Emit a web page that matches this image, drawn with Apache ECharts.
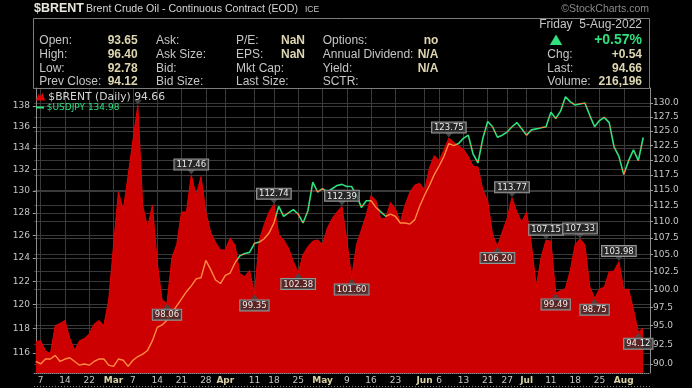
<!DOCTYPE html>
<html><head><meta charset="utf-8">
<script src="https://cdn.jsdelivr.net/npm/echarts@6/dist/echarts.min.js"></script>
<style>html,body{margin:0;padding:0;background:#000;} #c{width:692px;height:388px;}</style>
</head><body><div id="c"></div><script>
// ---- data ----
const dates = ['2/4','2/7','2/8','2/9','2/10','2/11','2/14','2/15','2/16','2/17','2/18','2/22','2/23','2/24','2/25','2/28',
'3/1','3/2','3/3','3/4','3/7','3/8','3/9','3/10','3/11','3/14','3/15','3/16','3/17','3/18','3/21','3/22','3/23','3/24','3/25','3/28','3/29','3/30','3/31',
'4/1','4/4','4/5','4/6','4/7','4/8','4/11','4/12','4/13','4/14','4/18','4/19','4/20','4/21','4/22','4/25','4/26','4/27','4/28','4/29',
'5/2','5/3','5/4','5/5','5/6','5/9','5/10','5/11','5/12','5/13','5/16','5/17','5/18','5/19','5/20','5/23','5/24','5/25','5/26','5/27','5/31',
'6/1','6/2','6/3','6/6','6/7','6/8','6/9','6/10','6/13','6/14','6/15','6/16','6/17','6/21','6/22','6/23','6/24','6/27','6/28','6/29','6/30',
'7/1','7/5','7/6','7/7','7/8','7/11','7/12','7/13','7/14','7/15','7/18','7/19','7/20','7/21','7/22','7/25','7/26','7/27','7/28','7/29',
'8/1','8/2','8/3','8/4','8/5'];
const brent = [92.9,93.0,91.7,91.3,95.0,95.3,95.7,93.3,91.8,93.0,
93.3,93.9,95.2,95.7,95.0,98.5,106.4,114.7,111.8,117.4,
123.4,129.6,112.6,109.0,112.6,103.8,98.5,98.06,104.5,106.5,
111.5,111.5,117.46,114.1,117.2,111.5,108.3,106.8,105.7,105.7,
107.5,106.4,102.2,101.8,102.7,99.35,107.2,109.5,111.5,112.74,
108.0,107.2,106.0,104.0,102.38,105.0,106.2,107.0,107.2,106.5,
109.0,110.5,111.5,112.39,107.2,101.60,106.5,108.7,111.0,114.1,
113.3,110.4,110.5,113.0,112.0,109.9,112.6,114.7,115.8,116.1,
115.0,118.6,120.7,119.9,121.7,123.75,123.0,122.4,121.8,120.6,
118.9,118.8,115.0,113.3,108.0,106.20,108.4,110.5,113.77,111.5,
109.9,111.5,106.5,100.4,104.6,107.15,107.0,99.49,99.8,100.1,
102.7,106.5,107.33,106.5,100.4,98.75,100.0,100.3,102.5,102.6,
103.98,100.0,100.0,97.2,94.12,94.66];
const usdjpy = [115.3,115.1,115.5,115.5,115.8,115.3,115.5,115.6,115.3,115.0,
115.1,115.0,115.3,115.5,115.5,115.0,114.9,115.5,115.4,114.9,
115.4,115.7,115.9,116.2,117.0,118.1,118.3,118.7,119.3,119.9,
120.5,121.1,121.6,122.2,122.3,123.8,123.0,122.1,121.8,122.5,
122.7,123.6,124.2,124.4,124.5,125.3,125.4,125.7,126.2,127.1,
128.6,127.7,128.0,128.3,127.9,127.1,128.2,130.8,129.9,130.2,
129.9,130.2,130.5,130.6,130.4,130.4,129.6,128.5,129.1,129.1,
128.5,128.1,127.7,127.9,127.7,127.1,127.1,127.0,127.4,128.6,
129.6,130.5,131.5,132.3,133.2,134.4,134.2,134.4,134.9,135.2,
133.4,132.6,134.9,136.5,136.0,135.0,135.2,135.5,136.0,136.4,
135.8,135.2,135.7,135.8,135.9,136.0,137.4,136.8,137.5,138.9,
138.4,138.1,138.2,138.3,137.1,136.0,136.6,136.9,136.4,134.1,
133.2,131.5,132.8,133.8,132.8,134.98];
const xTickDates  = ['2/7','2/14','2/22','3/1','3/7','3/14','3/21','3/28','4/1','4/11','4/18','4/25','5/2','5/9','5/16','5/23','6/1','6/6','6/13','6/21','6/27','7/1','7/11','7/18','7/25','8/1'];
const xTickLabels = ['7','14','22','Mar','7','14','21','28','Apr','11','18','25','May','9','16','23','Jun','6','13','21','27','Jul','11','18','25','Aug'];
const monthLabels = ['Mar','Apr','May','Jun','Jul','Aug'];
const jpyTicks   = [116,118,120,122,124,126,128,130,132,134,136,138];
const brentTicks = [90,92.5,95,97.5,100,102.5,105,107.5,110,112.5,115,117.5,120,122.5,125,127.5,130];
const peakDates   = ['3/8','3/23','4/18','5/6','6/8','6/28','7/8','7/19','7/29'];
const troughDates = ['3/16','4/11','4/25','5/10','6/23','7/12','7/22','8/4'];
const hiddenLabelDates = ['3/8'];
const quoteLabels1 = ['Open:','High:','Low:','Prev Close:'];
const quoteValues1 = ['93.65','96.40','92.78','94.12'];
const quoteLabels2 = ['Ask:','Ask Size:','Bid:','Bid Size:'];
const quoteLabels3 = ['P/E:','EPS:','Mkt Cap:','Last Size:'];
const quoteValues3 = ['NaN','NaN','',''];
const quoteLabels4 = ['Options:','Annual Dividend:','Yield:','SCTR:'];
const quoteValues4 = ['no','N/A','N/A',''];
const sideLabels = ['Chg:','Last:','Volume:'];
const sideValues = ['+0.54','94.66','216,196'];
const quoteDate = 'Friday  5-Aug-2022';
const pctChange = '+0.57%';

// ---- styles ----
const RED = '#cc0000', RED_EDGE = '#e60000', GREEN = '#2fe07c', ORANGE = '#ff8a40';
const GRID = '#3a3a3a', LBL = '#c6c6c6', VAL = '#ddd6b0';
const SANS = '"Liberation Sans", Arial, sans-serif', DJ = '"DejaVu Sans", sans-serif';

const idx = d => dates.indexOf(d);
const brentPts = brent.map((v, i) => [i, v]);
const jpyPts = usdjpy.map((v, i) => [i, v]);
const tickIdx = xTickDates.map(idx);
const labelOf = {}; tickIdx.forEach((t, k) => labelOf[t] = xTickLabels[k]);

const boxLabel = {
  color: '#ececec', fontFamily: DJ, fontSize: 8.5, lineHeight: 9,
  backgroundColor: 'rgba(50,50,50,0.72)', borderColor: '#959595', borderWidth: 1, padding: [1, 2, 0, 2]
};
const mp = [];
peakDates.forEach(d => { const i = idx(d); mp.push({
  coord: [i, brent[i]], symbol: 'triangle', symbolSize: [8, 5], symbolRotate: 180, symbolOffset: [0, -3],
  itemStyle: { color: 'rgba(70,70,70,0.92)' },
  label: Object.assign({ show: hiddenLabelDates.indexOf(d) < 0, position: 'top', distance: 0, formatter: brent[i].toFixed(2) }, boxLabel)
}); });
troughDates.forEach(d => { const i = idx(d); mp.push({
  coord: [i, brent[i]], symbol: 'triangle', symbolSize: [8, 5], symbolOffset: [0, 3],
  itemStyle: { color: 'rgba(70,70,70,0.92)' },
  label: Object.assign({ show: true, position: 'bottom', distance: 1, formatter: brent[i].toFixed(2) }, boxLabel)
}); });

function T(x, y, text, font, fill, align) {
  return { type: 'text', x: x, y: y, z: 20, silent: true,
    style: { text: text, font: font, fill: fill, align: align || 'left', textAlign: align || 'left', verticalAlign: 'middle', textVerticalAlign: 'middle' } };
}
const g = [];
g.push({ type: 'rect', z: 19, silent: true, shape: { x: 33.5, y: 18.5, width: 616, height: 70 }, style: { fill: 'none', stroke: '#7c7c7c', lineWidth: 1 } });
g.push(T(34, 9, '$BRENT', 'bold 12.5px ' + SANS, '#e8e6dc'));
g.push(T(86, 9.5, 'Brent Crude Oil - Continuous Contract (EOD)', '10.6px ' + SANS, '#d6d6d6'));
g.push(T(305, 10, 'ICE', '8.5px ' + SANS, '#c8c8c8'));
g.push(T(649, 9.5, '\u00A9StockCharts.com', '10.5px ' + SANS, '#8a8a8a', 'right'));
const rowsY = [40.5, 54.3, 68.2, 82];
rowsY.forEach((y, r) => {
  g.push(T(39.3, y, quoteLabels1[r], '12px ' + SANS, LBL));
  g.push(T(137.7, y, quoteValues1[r], 'bold 12px ' + SANS, VAL, 'right'));
  g.push(T(156, y, quoteLabels2[r], '12px ' + SANS, LBL));
  g.push(T(236, y, quoteLabels3[r], '12px ' + SANS, LBL));
  if (quoteValues3[r]) g.push(T(305, y, quoteValues3[r], 'bold 12px ' + SANS, VAL, 'right'));
  g.push(T(322.7, y, quoteLabels4[r], '12px ' + SANS, LBL));
  if (quoteValues4[r]) g.push(T(438.3, y, quoteValues4[r], 'bold 12px ' + SANS, VAL, 'right'));
});
g.push(T(642, 24.5, quoteDate, '12px ' + SANS, LBL, 'right'));
g.push({ type: 'polygon', z: 20, silent: true, shape: { points: [[549.8, 45], [556, 34.5], [562.2, 45]] }, style: { fill: GREEN } });
g.push(T(642, 40, pctChange, 'bold 14px ' + SANS, GREEN, 'right'));
sideLabels.forEach((s, k) => {
  g.push(T(547.3, rowsY[k + 1], s, '12px ' + SANS, LBL));
  g.push(T(642, rowsY[k + 1], sideValues[k], 'bold 12px ' + SANS, VAL, 'right'));
});
// legend
g.push({ type: 'polygon', z: 20, silent: true, shape: { points: [[36, 100.5], [38.5, 94], [40.5, 96.5], [42.5, 92.5], [45, 100.5]] }, style: { fill: '#e00000' } });
g.push(T(48.3, 97, '$BRENT (Daily) ' + brent[brent.length - 1].toFixed(2), '10.8px ' + DJ, '#d6d6d6'));
g.push({ type: 'line', z: 20, silent: true, shape: { x1: 36, y1: 107.5, x2: 44, y2: 107.5 }, style: { stroke: GREEN, lineWidth: 2 } });
g.push(T(46.7, 107.5, '$USDJPY ' + usdjpy[usdjpy.length - 1].toFixed(2), '9px ' + DJ, GREEN));
g.push({ type: 'line', z: 20, silent: true, shape: { x1: 34, y1: 386.5, x2: 650, y2: 386.5 }, style: { stroke: '#8a8a8a', lineWidth: 1, lineDash: [1, 2] } });

const chart = echarts.init(document.getElementById('c'), null, { renderer: 'canvas' });
chart.setOption({
  animation: false,
  backgroundColor: 'transparent',
  grid: { left: 34, right: 42, top: 88, bottom: 15, containLabel: false, outerBoundsMode: 'none' },
  xAxis: {
    type: 'value', min: -0.37, max: 126.4,
    axisLine: { show: true, lineStyle: { color: '#8c8c8c', type: 'dotted', width: 1 } },
    axisTick: { show: false, customValues: tickIdx },
    splitLine: { show: true, lineStyle: { color: GRID, width: 1 } },
    axisLabel: {
      customValues: tickIdx, margin: 3, color: LBL, fontFamily: DJ, fontSize: 9,
      formatter: v => { const t = labelOf[Math.round(v)] || ''; return monthLabels.indexOf(t) >= 0 ? '{m|' + t + '}' : t; },
      rich: { m: { fontWeight: 'bold', color: '#d9d0a2', fontFamily: DJ, fontSize: 9 } }
    }
  },
  yAxis: [
    { type: 'log', position: 'left', min: 114.37, max: 139.76,
      axisLine: { show: true, lineStyle: { color: '#8c8c8c' } },
      axisTick: { show: true, length: 3, customValues: jpyTicks, lineStyle: { color: '#9a9a9a' } },
      splitLine: { show: true, lineStyle: { color: GRID, width: 1 } },
      axisLabel: { customValues: jpyTicks, margin: 4, color: LBL, fontFamily: DJ, fontSize: 9, formatter: v => String(Math.round(v)) } },
    { type: 'log', position: 'right', min: 88.87, max: 132.78,
      axisLine: { show: true, lineStyle: { color: '#8c8c8c' } },
      axisTick: { show: true, length: 3, customValues: brentTicks, lineStyle: { color: '#9a9a9a' } },
      splitLine: { show: true, lineStyle: { color: GRID, width: 1 } },
      axisLabel: { customValues: brentTicks, margin: 3, color: LBL, fontFamily: DJ, fontSize: 9, formatter: v => (Math.round(v * 10) / 10).toFixed(1) } }
  ],
  series: [
    { name: '$BRENT', type: 'line', yAxisIndex: 1, data: brentPts, z: 2, zlevel: 0,
      showSymbol: false, symbol: 'none', silent: true,
      lineStyle: { color: RED_EDGE, width: 1 },
      areaStyle: { color: RED, opacity: 1, origin: 'start' },
      markPoint: { silent: true, animation: false, data: mp } },
    { name: '$USDJPY-in', type: 'line', yAxisIndex: 0, data: jpyPts, z: 3,
      showSymbol: false, symbol: 'none', silent: true, blendMode: 'source-atop',
      lineStyle: { color: ORANGE, width: 1.4 } },
    { name: '$USDJPY', type: 'line', yAxisIndex: 0, data: jpyPts, z: 4,
      showSymbol: false, symbol: 'none', silent: true, blendMode: 'destination-over',
      lineStyle: { color: GREEN, width: 1.6 } }
  ],
  graphic: g
});
</script></body></html>
